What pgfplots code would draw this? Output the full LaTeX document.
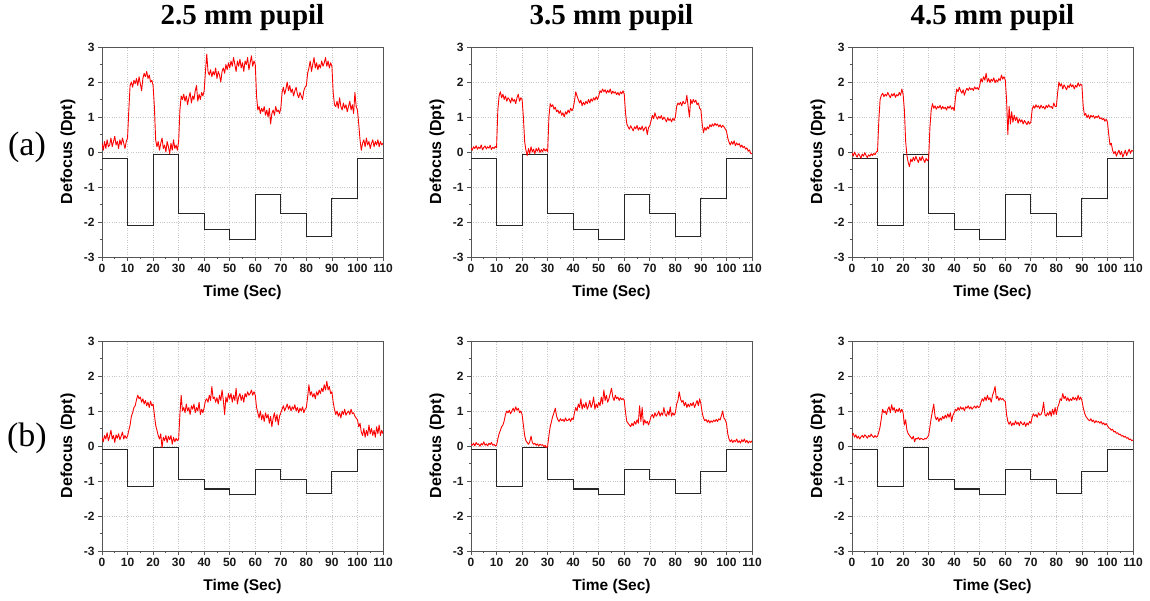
\documentclass[border=0pt]{standalone}
\usepackage{fontspec}
\setmainfont{Liberation Sans}
\newfontfamily\timesfont{Liberation Serif}
\usepackage{pgfplots}
\usepackage{pgfplotstable}
\pgfplotsset{compat=1.18}

% stimulus steps (black)
\pgfplotstableread[row sep=\\]{t y\\
0 -0.19\\ 10 -2.09\\ 20 -0.07\\ 30 -1.76\\ 40 -2.21\\ 50 -2.49\\ 60 -1.22\\ 70 -1.76\\ 80 -2.42\\ 90 -1.34\\ 100 -0.18\\ 110 -0.18\\
}\stepA
\pgfplotstableread[row sep=\\]{t y\\
0 -0.1\\ 10 -1.15\\ 20 -0.04\\ 30 -0.97\\ 40 -1.23\\ 50 -1.39\\ 60 -0.67\\ 70 -0.96\\ 80 -1.35\\ 90 -0.73\\ 100 -0.1\\ 110 -0.1\\
}\stepB

% responses (red)
\pgfplotstableread[row sep=\\]{t y\\
0 0.25\\ 0.5 0.05\\ 1 0.3\\ 1.5 0.1\\ 2 0.35\\ 2.5 0.15\\ 3 0.2\\ 3.5 0.4\\ 4 0.15\\ 4.5 0.3\\
5 0.45\\ 5.5 0.2\\ 6 0.3\\ 6.5 0.1\\ 7 0.35\\ 7.5 0.2\\ 8 0.4\\ 8.5 0.25\\ 9 0.1\\ 9.5 0.3\\
10 0.4\\ 10.5 1.2\\ 11 1.9\\ 11.5 2\\ 12 1.85\\ 12.5 2.05\\ 13 1.95\\ 13.5 2.1\\ 14 1.9\\ 14.5 2.15\\
15 1.95\\ 15.5 1.75\\ 16 2.1\\ 16.5 2.25\\ 17 2.15\\ 17.5 2.3\\ 18 2.1\\ 18.5 2.2\\ 19 2\\ 19.5 2.05\\
20 1.9\\ 20.5 1.3\\ 21 0.35\\ 21.5 0.15\\ 22 0.3\\ 22.5 0.05\\ 23 0.25\\ 23.5 0.4\\ 24 0.1\\ 24.5 0.2\\
25 0\\ 25.5 0.3\\ 26 0.15\\ 26.5 -0.05\\ 27 0.25\\ 27.5 0.05\\ 28 0.35\\ 28.5 0.1\\ 29 0.2\\ 29.5 0.05\\
30 0.3\\ 30.5 1.2\\ 31 1.6\\ 31.5 1.5\\ 32 1.65\\ 32.5 1.45\\ 33 1.6\\ 33.5 1.35\\ 34 1.55\\ 34.5 1.7\\
35 1.4\\ 35.5 1.6\\ 36 1.5\\ 36.5 1.75\\ 37 1.9\\ 37.5 1.45\\ 38 1.65\\ 38.5 1.5\\ 39 1.7\\ 39.5 1.6\\
40 1.75\\ 40.5 2.3\\ 41 2.8\\ 41.5 2.3\\ 42 2.2\\ 42.5 2.35\\ 43 2.15\\ 43.5 2.3\\ 44 2.2\\ 44.5 2.4\\
45 2.1\\ 45.5 2.3\\ 46 2.2\\ 46.5 2\\ 47 2.3\\ 47.5 2.4\\ 48 2.25\\ 48.5 2.5\\ 49 2.35\\ 49.5 2.55\\
50 2.4\\ 50.5 2.6\\ 51 2.45\\ 51.5 2.7\\ 52 2.5\\ 52.5 2.3\\ 53 2.6\\ 53.5 2.45\\ 54 2.65\\ 54.5 2.4\\
55 2.55\\ 55.5 2.3\\ 56 2.6\\ 56.5 2.5\\ 57 2.7\\ 57.5 2.35\\ 58 2.55\\ 58.5 2.75\\ 59 2.45\\ 59.5 2.6\\
60 2.5\\ 60.5 1.6\\ 61 1.2\\ 61.5 1.3\\ 62 1.1\\ 62.5 1.25\\ 63 1.15\\ 63.5 1.3\\ 64 1.05\\ 64.5 1.2\\
65 1\\ 65.5 1.25\\ 66 0.8\\ 66.5 1.1\\ 67 1.2\\ 67.5 1.05\\ 68 1.3\\ 68.5 1.15\\ 69 1.2\\ 69.5 1.1\\
70 1.25\\ 70.5 1.7\\ 71 1.85\\ 71.5 1.65\\ 72 1.8\\ 72.5 2\\ 73 1.75\\ 73.5 1.9\\ 74 1.7\\ 74.5 1.8\\
75 1.6\\ 75.5 1.75\\ 76 1.85\\ 76.5 1.65\\ 77 1.55\\ 77.5 1.7\\ 78 1.6\\ 78.5 1.5\\ 79 1.75\\ 79.5 1.85\\
80 1.9\\ 80.5 2.25\\ 81 2.4\\ 81.5 2.6\\ 82 2.3\\ 82.5 2.5\\ 83 2.7\\ 83.5 2.4\\ 84 2.55\\ 84.5 2.35\\
85 2.5\\ 85.5 2.4\\ 86 2.6\\ 86.5 2.45\\ 87 2.55\\ 87.5 2.7\\ 88 2.45\\ 88.5 2.6\\ 89 2.4\\ 89.5 2.55\\
90 2.45\\ 90.5 1.7\\ 91 1.35\\ 91.5 1.3\\ 92 1.45\\ 92.5 1.25\\ 93 1.55\\ 93.5 1.3\\ 94 1.2\\ 94.5 1.4\\
95 1.25\\ 95.5 1.35\\ 96 1.15\\ 96.5 1.3\\ 97 1.45\\ 97.5 1.2\\ 98 1.35\\ 98.5 1.1\\ 99 1.7\\ 99.5 1.3\\
100 1.2\\ 100.5 0.8\\ 101 0.35\\ 101.5 0.05\\ 102 0.25\\ 102.5 0.35\\ 103 0.15\\ 103.5 0.4\\ 104 0.2\\ 104.5 0.3\\
105 0.1\\ 105.5 0.25\\ 106 0.35\\ 106.5 0.15\\ 107 0.3\\ 107.5 0.2\\ 108 0.35\\ 108.5 0.15\\ 109 0.3\\ 109.5 0.2\\ 110 0.25\\
}\respAone

\pgfplotstableread[row sep=\\]{t y\\
0 0.12\\ 0.5 0.05\\ 1 0.15\\ 1.5 0.1\\ 2 0.18\\ 2.5 0.08\\ 3 0.14\\ 3.5 0.1\\ 4 0.2\\ 4.5 0.06\\
5 0.13\\ 5.5 0.17\\ 6 0.09\\ 6.5 0.15\\ 7 0.11\\ 7.5 0.19\\ 8 0.07\\ 8.5 0.14\\ 9 0.1\\ 9.5 0.16\\
10 0.12\\ 10.5 1.2\\ 11 1.6\\ 11.5 1.72\\ 12 1.55\\ 12.5 1.65\\ 13 1.5\\ 13.5 1.6\\ 14 1.45\\ 14.5 1.55\\
15 1.5\\ 15.5 1.4\\ 16 1.55\\ 16.5 1.45\\ 17 1.5\\ 17.5 1.38\\ 18 1.55\\ 18.5 1.65\\ 19 1.45\\ 19.5 1.55\\
20 1.5\\ 20.5 1\\ 21 0.3\\ 21.5 0.05\\ 22 -0.1\\ 22.5 0.1\\ 23 -0.05\\ 23.5 0.15\\ 24 0\\ 24.5 0.08\\
25 -0.05\\ 25.5 0.1\\ 26 0.02\\ 26.5 0.12\\ 27 -0.02\\ 27.5 0.07\\ 28 0\\ 28.5 0.1\\ 29 0.03\\ 29.5 0.08\\
30 0\\ 30.5 1\\ 31 1.38\\ 31.5 1.3\\ 32 1.35\\ 32.5 1.22\\ 33 1.28\\ 33.5 1.15\\ 34 1.2\\ 34.5 1.1\\
35 1.18\\ 35.5 1.05\\ 36 1.12\\ 36.5 1\\ 37 1.15\\ 37.5 1.08\\ 38 1.2\\ 38.5 1.12\\ 39 1.25\\ 39.5 1.18\\
40 1.25\\ 40.5 1.45\\ 41 1.72\\ 41.5 1.6\\ 42 1.5\\ 42.5 1.4\\ 43 1.48\\ 43.5 1.32\\ 44 1.42\\ 44.5 1.35\\
45 1.45\\ 45.5 1.38\\ 46 1.5\\ 46.5 1.4\\ 47 1.52\\ 47.5 1.45\\ 48 1.55\\ 48.5 1.48\\ 49 1.58\\ 49.5 1.5\\
50 1.6\\ 50.5 1.75\\ 51 1.7\\ 51.5 1.8\\ 52 1.72\\ 52.5 1.78\\ 53 1.68\\ 53.5 1.76\\ 54 1.7\\ 54.5 1.8\\
55 1.66\\ 55.5 1.74\\ 56 1.68\\ 56.5 1.72\\ 57 1.64\\ 57.5 1.7\\ 58 1.62\\ 58.5 1.72\\ 59 1.66\\ 59.5 1.75\\
60 1.65\\ 60.5 1.1\\ 61 0.8\\ 61.5 0.72\\ 62 0.65\\ 62.5 0.75\\ 63 0.68\\ 63.5 0.6\\ 64 0.72\\ 64.5 0.66\\
65 0.76\\ 65.5 0.62\\ 66 0.7\\ 66.5 0.64\\ 67 0.74\\ 67.5 0.6\\ 68 0.68\\ 68.5 0.72\\ 69 0.5\\ 69.5 0.7\\
70 0.75\\ 70.5 0.9\\ 71 1.05\\ 71.5 0.95\\ 72 1.12\\ 72.5 1\\ 73 0.94\\ 73.5 1.02\\ 74 0.96\\ 74.5 1.04\\
75 0.92\\ 75.5 1\\ 76 0.94\\ 76.5 0.86\\ 77 0.98\\ 77.5 0.9\\ 78 0.95\\ 78.5 0.86\\ 79 0.96\\ 79.5 0.9\\
80 1\\ 80.5 1.3\\ 81 1.4\\ 81.5 1.35\\ 82 1.42\\ 82.5 1.32\\ 83 1.45\\ 83.5 1.38\\ 84 1.4\\ 84.5 1.62\\
85 1.3\\ 85.5 1\\ 86 1.5\\ 86.5 1.38\\ 87 1.5\\ 87.5 1.42\\ 88 1.48\\ 88.5 1.35\\ 89 1.4\\ 89.5 1.25\\
90 1.2\\ 90.5 0.8\\ 91 0.55\\ 91.5 0.7\\ 92 0.62\\ 92.5 0.72\\ 93 0.66\\ 93.5 0.78\\ 94 0.72\\ 94.5 0.8\\
95 0.74\\ 95.5 0.82\\ 96 0.76\\ 96.5 0.8\\ 97 0.72\\ 97.5 0.78\\ 98 0.7\\ 98.5 0.76\\ 99 0.72\\ 99.5 0.66\\
100 0.6\\ 100.5 0.4\\ 101 0.28\\ 101.5 0.2\\ 102 0.3\\ 102.5 0.22\\ 103 0.32\\ 103.5 0.18\\ 104 0.26\\ 104.5 0.2\\
105 0.24\\ 105.5 0.14\\ 106 0.2\\ 106.5 0.12\\ 107 0.16\\ 107.5 0.08\\ 108 0.12\\ 108.5 0.02\\ 109 0.06\\ 109.5 -0.04\\ 110 -0.05\\
}\respAtwo

\pgfplotstableread[row sep=\\]{t y\\
0 -0.02\\ 0.5 -0.12\\ 1 0\\ 1.5 -0.08\\ 2 -0.15\\ 2.5 -0.05\\ 3 -0.1\\ 3.5 -0.18\\ 4 -0.06\\ 4.5 -0.12\\
5 -0.02\\ 5.5 -0.1\\ 6 -0.16\\ 6.5 -0.08\\ 7 -0.12\\ 7.5 -0.05\\ 8 -0.1\\ 8.5 -0.04\\ 9 -0.08\\ 9.5 0\\
10 0.02\\ 10.5 0.9\\ 11 1.5\\ 11.5 1.62\\ 12 1.68\\ 12.5 1.58\\ 13 1.65\\ 13.5 1.6\\ 14 1.7\\ 14.5 1.62\\
15 1.55\\ 15.5 1.66\\ 16 1.6\\ 16.5 1.68\\ 17 1.56\\ 17.5 1.64\\ 18 1.6\\ 18.5 1.7\\ 19 1.62\\ 19.5 1.8\\
20 1.65\\ 20.5 1.2\\ 21 0.3\\ 21.5 -0.1\\ 22 -0.3\\ 22.5 -0.42\\ 23 -0.2\\ 23.5 -0.28\\ 24 -0.15\\ 24.5 -0.25\\
25 -0.12\\ 25.5 -0.22\\ 26 -0.3\\ 26.5 -0.15\\ 27 -0.25\\ 27.5 -0.12\\ 28 -0.22\\ 28.5 -0.3\\ 29 -0.18\\ 29.5 -0.25\\
30 -0.2\\ 30.5 0.7\\ 31 1.2\\ 31.5 1.38\\ 32 1.25\\ 32.5 1.32\\ 33 1.22\\ 33.5 1.3\\ 34 1.26\\ 34.5 1.33\\
35 1.22\\ 35.5 1.3\\ 36 1.24\\ 36.5 1.28\\ 37 1.2\\ 37.5 1.3\\ 38 1.25\\ 38.5 1.32\\ 39 1.22\\ 39.5 1.28\\
40 1.18\\ 40.5 1.55\\ 41 1.8\\ 41.5 1.72\\ 42 1.85\\ 42.5 1.75\\ 43 1.68\\ 43.5 1.78\\ 44 1.62\\ 44.5 1.75\\
45 1.82\\ 45.5 1.76\\ 46 1.84\\ 46.5 1.78\\ 47 1.82\\ 47.5 1.76\\ 48 1.86\\ 48.5 1.8\\ 49 1.84\\ 49.5 1.78\\
50 1.9\\ 50.5 2.1\\ 51 2\\ 51.5 2.15\\ 52 2.05\\ 52.5 2.25\\ 53 2\\ 53.5 2.1\\ 54 1.98\\ 54.5 2.08\\
55 2.02\\ 55.5 2.12\\ 56 1.98\\ 56.5 2.06\\ 57 2\\ 57.5 2.1\\ 58 2.04\\ 58.5 2.2\\ 59 2.08\\ 59.5 2.15\\
60 2.05\\ 60.5 1.5\\ 61 0.5\\ 61.5 1.3\\ 62 0.8\\ 62.5 1.15\\ 63 0.85\\ 63.5 1.05\\ 64 0.9\\ 64.5 1\\
65 0.82\\ 65.5 0.95\\ 66 0.86\\ 66.5 0.92\\ 67 0.8\\ 67.5 0.9\\ 68 0.84\\ 68.5 0.78\\ 69 0.88\\ 69.5 0.8\\
70 0.85\\ 70.5 1.2\\ 71 1.32\\ 71.5 1.25\\ 72 1.35\\ 72.5 1.28\\ 73 1.32\\ 73.5 1.24\\ 74 1.34\\ 74.5 1.26\\
75 1.3\\ 75.5 1.22\\ 76 1.33\\ 76.5 1.27\\ 77 1.35\\ 77.5 1.28\\ 78 1.3\\ 78.5 1.24\\ 79 1.4\\ 79.5 1.3\\
80 1.3\\ 80.5 1.7\\ 81 2\\ 81.5 1.88\\ 82 1.95\\ 82.5 1.8\\ 83 1.92\\ 83.5 1.85\\ 84 1.78\\ 84.5 1.9\\
85 1.84\\ 85.5 1.95\\ 86 1.86\\ 86.5 1.92\\ 87 1.8\\ 87.5 1.9\\ 88 1.85\\ 88.5 1.98\\ 89 1.88\\ 89.5 1.94\\
90 1.9\\ 90.5 1.3\\ 91 1.05\\ 91.5 1.1\\ 92 0.98\\ 92.5 1.06\\ 93 0.95\\ 93.5 1.05\\ 94 1\\ 94.5 1.04\\
95 0.96\\ 95.5 1.02\\ 96 0.98\\ 96.5 1.04\\ 97 0.95\\ 97.5 0.98\\ 98 0.92\\ 98.5 0.96\\ 99 0.88\\ 99.5 0.94\\
100 0.85\\ 100.5 0.5\\ 101 0.2\\ 101.5 0.25\\ 102 0.05\\ 102.5 -0.05\\ 103 0.02\\ 103.5 -0.12\\ 104 -0.02\\ 104.5 0.05\\
105 -0.08\\ 105.5 0.02\\ 106 -0.15\\ 106.5 -0.05\\ 107 0.05\\ 107.5 -0.1\\ 108 0\\ 108.5 0.08\\ 109 -0.04\\ 109.5 0.05\\ 110 0.02\\
}\respAthree

\pgfplotstableread[row sep=\\]{t y\\
0 0.25\\ 0.5 0.12\\ 1 0.3\\ 1.5 0.2\\ 2 0.38\\ 2.5 0.15\\ 3 0.28\\ 3.5 0.45\\ 4 0.2\\ 4.5 0.3\\
5 0.1\\ 5.5 0.32\\ 6 0.22\\ 6.5 0.35\\ 7 0.18\\ 7.5 0.28\\ 8 0.4\\ 8.5 0.2\\ 9 0.3\\ 9.5 0.22\\
10 0.28\\ 10.5 0.45\\ 11 0.6\\ 11.5 0.85\\ 12 0.95\\ 12.5 1.1\\ 13 1.15\\ 13.5 1.32\\ 14 1.45\\ 14.5 1.35\\
15 1.4\\ 15.5 1.25\\ 16 1.35\\ 16.5 1.2\\ 17 1.3\\ 17.5 1.15\\ 18 1.25\\ 18.5 1.1\\ 19 1.28\\ 19.5 1.15\\
20 1.2\\ 20.5 0.9\\ 21 0.6\\ 21.5 0.45\\ 22 0.3\\ 22.5 0.2\\ 23 0.35\\ 23.5 -0.05\\ 24 0.25\\ 24.5 0.15\\
25 0.3\\ 25.5 0.1\\ 26 0.28\\ 26.5 0.18\\ 27 0.3\\ 27.5 0.05\\ 28 0.25\\ 28.5 0.12\\ 29 0.22\\ 29.5 0.15\\
30 0.2\\ 30.5 0.9\\ 31 1.45\\ 31.5 1\\ 32 1.1\\ 32.5 0.95\\ 33 1.2\\ 33.5 1\\ 34 1.1\\ 34.5 0.9\\
35 1.15\\ 35.5 1.05\\ 36 1.2\\ 36.5 0.95\\ 37 1.1\\ 37.5 1\\ 38 1.25\\ 38.5 0.9\\ 39 1.05\\ 39.5 0.95\\
40 1.1\\ 40.5 1.3\\ 41 1.35\\ 41.5 1.25\\ 42 1.45\\ 42.5 1.3\\ 43 1.7\\ 43.5 1.35\\ 44 1.4\\ 44.5 1.25\\
45 1.38\\ 45.5 1.2\\ 46 1.45\\ 46.5 1.3\\ 47 1.6\\ 47.5 1.3\\ 48 0.9\\ 48.5 1.4\\ 49 1.25\\ 49.5 1.5\\
50 1.35\\ 50.5 1.5\\ 51 1.25\\ 51.5 1.45\\ 52 1.3\\ 52.5 1.65\\ 53 1.2\\ 53.5 1.4\\ 54 1.5\\ 54.5 1.3\\
55 1.45\\ 55.5 1.25\\ 56 1.5\\ 56.5 1.4\\ 57 1.55\\ 57.5 1.45\\ 58 1.5\\ 58.5 1.6\\ 59 1.45\\ 59.5 1.55\\
60 1.45\\ 60.5 1.1\\ 61 0.95\\ 61.5 0.8\\ 62 1\\ 62.5 0.75\\ 63 0.9\\ 63.5 0.7\\ 64 0.95\\ 64.5 0.8\\
65 0.9\\ 65.5 0.65\\ 66 0.85\\ 66.5 0.55\\ 67 0.8\\ 67.5 0.95\\ 68 0.7\\ 68.5 0.9\\ 69 0.6\\ 69.5 0.85\\
70 0.95\\ 70.5 1.05\\ 71 1.15\\ 71.5 1\\ 72 1.1\\ 72.5 1.2\\ 73 1.05\\ 73.5 1.15\\ 74 1\\ 74.5 1.12\\
75 1.05\\ 75.5 1.18\\ 76 1\\ 76.5 1.1\\ 77 0.95\\ 77.5 1.08\\ 78 1\\ 78.5 1.12\\ 79 0.95\\ 79.5 1.05\\
80 1.1\\ 80.5 1.4\\ 81 1.75\\ 81.5 1.45\\ 82 1.55\\ 82.5 1.4\\ 83 1.5\\ 83.5 1.35\\ 84 1.55\\ 84.5 1.45\\
85 1.6\\ 85.5 1.5\\ 86 1.65\\ 86.5 1.55\\ 87 1.75\\ 87.5 1.6\\ 88 1.85\\ 88.5 1.6\\ 89 1.7\\ 89.5 1.5\\
90 1.55\\ 90.5 1.25\\ 91 1.05\\ 91.5 0.9\\ 92 1\\ 92.5 0.85\\ 93 0.95\\ 93.5 0.8\\ 94 1\\ 94.5 0.9\\
95 1.05\\ 95.5 0.88\\ 96 0.95\\ 96.5 1\\ 97 0.9\\ 97.5 1.05\\ 98 0.92\\ 98.5 0.95\\ 99 0.85\\ 99.5 0.8\\
100 0.75\\ 100.5 0.55\\ 101 0.65\\ 101.5 0.4\\ 102 0.3\\ 102.5 0.5\\ 103 0.25\\ 103.5 0.45\\ 104 0.3\\ 104.5 0.6\\
105 0.35\\ 105.5 0.5\\ 106 0.3\\ 106.5 0.45\\ 107 0.25\\ 107.5 0.55\\ 108 0.35\\ 108.5 0.6\\ 109 0.3\\ 109.5 0.45\\ 110 0.35\\
}\respBone

\pgfplotstableread[row sep=\\]{t y\\
0 0.05\\ 0.5 0.02\\ 1 0.08\\ 1.5 0\\ 2 0.1\\ 2.5 0.04\\ 3 0.06\\ 3.5 -0.01\\ 4 0.07\\ 4.5 0.03\\
5 0.12\\ 5.5 0.02\\ 6 0.06\\ 6.5 0\\ 7 0.08\\ 7.5 0.04\\ 8 0.1\\ 8.5 0.02\\ 9 0.05\\ 9.5 0\\
10 0.02\\ 10.5 0.2\\ 11 0.35\\ 11.5 0.45\\ 12 0.55\\ 12.5 0.6\\ 13 0.72\\ 13.5 0.9\\ 14 1\\ 14.5 0.95\\
15 1.02\\ 15.5 0.92\\ 16 1\\ 16.5 1.08\\ 17 0.98\\ 17.5 1.12\\ 18 1.02\\ 18.5 1.08\\ 19 0.95\\ 19.5 1\\
20 0.9\\ 20.5 0.6\\ 21 0.3\\ 21.5 0.15\\ 22 0.1\\ 22.5 0.05\\ 23 0.12\\ 23.5 0.28\\ 24 0.1\\ 24.5 0.05\\
25 0.08\\ 25.5 0.02\\ 26 0.06\\ 26.5 0\\ 27 0.05\\ 27.5 0.02\\ 28 0.04\\ 28.5 -0.02\\ 29 0.02\\ 29.5 -0.05\\
30 0\\ 30.5 0.3\\ 31 0.55\\ 31.5 0.7\\ 32 0.85\\ 32.5 0.95\\ 33 1.08\\ 33.5 0.85\\ 34 0.75\\ 34.5 0.7\\
35 0.78\\ 35.5 0.72\\ 36 0.76\\ 36.5 0.7\\ 37 0.8\\ 37.5 0.72\\ 38 0.74\\ 38.5 0.78\\ 39 0.7\\ 39.5 0.8\\
40 0.75\\ 40.5 0.95\\ 41 1.1\\ 41.5 1\\ 42 1.2\\ 42.5 1.1\\ 43 1.35\\ 43.5 1.05\\ 44 1.2\\ 44.5 1.1\\
45 1.25\\ 45.5 1.05\\ 46 1.15\\ 46.5 1.3\\ 47 1.1\\ 47.5 1.2\\ 48 1.4\\ 48.5 1.05\\ 49 1.2\\ 49.5 1.1\\
50 1.25\\ 50.5 1.15\\ 51 1.4\\ 51.5 1.2\\ 52 1.6\\ 52.5 1.3\\ 53 1.45\\ 53.5 1.25\\ 54 1.35\\ 54.5 1.5\\
55 1.65\\ 55.5 1.4\\ 56 1.3\\ 56.5 1.45\\ 57 1.35\\ 57.5 1.4\\ 58 1.3\\ 58.5 1.38\\ 59 1.32\\ 59.5 1.36\\
60 1.3\\ 60.5 0.95\\ 61 0.7\\ 61.5 0.65\\ 62 0.6\\ 62.5 0.55\\ 63 0.65\\ 63.5 0.58\\ 64 0.7\\ 64.5 0.62\\
65 0.75\\ 65.5 0.65\\ 66 1.15\\ 66.5 0.7\\ 67 1.1\\ 67.5 0.6\\ 68 0.75\\ 68.5 0.65\\ 69 0.7\\ 69.5 0.6\\
70 0.72\\ 70.5 0.85\\ 71 0.9\\ 71.5 0.8\\ 72 0.95\\ 72.5 0.85\\ 73 0.9\\ 73.5 1\\ 74 0.85\\ 74.5 0.95\\
75 0.88\\ 75.5 1.1\\ 76 0.9\\ 76.5 0.85\\ 77 1\\ 77.5 0.88\\ 78 1.12\\ 78.5 0.85\\ 79 0.95\\ 79.5 0.88\\
80 0.95\\ 80.5 1.2\\ 81 1.3\\ 81.5 1.55\\ 82 1.35\\ 82.5 1.25\\ 83 1.3\\ 83.5 1.15\\ 84 1.25\\ 84.5 1.1\\
85 1.2\\ 85.5 1.12\\ 86 1.22\\ 86.5 1.15\\ 87 1.25\\ 87.5 1.1\\ 88 1.2\\ 88.5 1.3\\ 89 1.15\\ 89.5 1.35\\
90 1.2\\ 90.5 0.95\\ 91 0.8\\ 91.5 0.72\\ 92 0.76\\ 92.5 0.68\\ 93 0.74\\ 93.5 0.66\\ 94 0.72\\ 94.5 0.68\\
95 0.74\\ 95.5 0.7\\ 96 0.76\\ 96.5 0.7\\ 97 0.78\\ 97.5 0.74\\ 98 0.86\\ 98.5 1\\ 99 0.8\\ 99.5 0.75\\
100 0.65\\ 100.5 0.35\\ 101 0.2\\ 101.5 0.12\\ 102 0.18\\ 102.5 0.1\\ 103 0.16\\ 103.5 0.12\\ 104 0.2\\ 104.5 0.1\\
105 0.15\\ 105.5 0.08\\ 106 0.18\\ 106.5 0.12\\ 107 0.2\\ 107.5 0.1\\ 108 0.16\\ 108.5 0.08\\ 109 0.14\\ 109.5 0.1\\ 110 0.15\\
}\respBtwo

\pgfplotstableread[row sep=\\]{t y\\
0 0.3\\ 0.5 0.36\\ 1 0.25\\ 1.5 0.32\\ 2 0.22\\ 2.5 0.28\\ 3 0.2\\ 3.5 0.26\\ 4 0.3\\ 4.5 0.24\\
5 0.32\\ 5.5 0.28\\ 6 0.22\\ 6.5 0.3\\ 7 0.26\\ 7.5 0.34\\ 8 0.28\\ 8.5 0.24\\ 9 0.3\\ 9.5 0.25\\
10 0.28\\ 10.5 0.4\\ 11 0.55\\ 11.5 0.8\\ 12 1.05\\ 12.5 0.95\\ 13 1\\ 13.5 0.9\\ 14 1.05\\ 14.5 1.12\\
15 0.95\\ 15.5 1.18\\ 16 1.02\\ 16.5 1.1\\ 17 0.95\\ 17.5 1.05\\ 18 0.98\\ 18.5 1.08\\ 19 0.96\\ 19.5 1.05\\
20 0.95\\ 20.5 0.6\\ 21 0.75\\ 21.5 0.45\\ 22 0.35\\ 22.5 0.3\\ 23 0.25\\ 23.5 0.2\\ 24 0.28\\ 24.5 0.12\\
25 0.22\\ 25.5 0.2\\ 26 0.24\\ 26.5 0.18\\ 27 0.22\\ 27.5 0.2\\ 28 0.18\\ 28.5 0.22\\ 29 0.2\\ 29.5 0.25\\
30 0.3\\ 30.5 0.55\\ 31 0.8\\ 31.5 1\\ 32 1.2\\ 32.5 0.85\\ 33 0.75\\ 33.5 0.82\\ 34 0.7\\ 34.5 0.8\\
35 0.74\\ 35.5 0.85\\ 36 0.78\\ 36.5 0.88\\ 37 0.8\\ 37.5 0.92\\ 38 0.82\\ 38.5 0.95\\ 39 0.7\\ 39.5 0.88\\
40 0.95\\ 40.5 1.05\\ 41 1\\ 41.5 1.1\\ 42 1.02\\ 42.5 1.12\\ 43 1.05\\ 43.5 1.1\\ 44 1\\ 44.5 1.12\\
45 1.08\\ 45.5 1.15\\ 46 1.06\\ 46.5 1.12\\ 47 1.05\\ 47.5 1.1\\ 48 1.14\\ 48.5 1.08\\ 49 1.15\\ 49.5 1.1\\
50 1.12\\ 50.5 1.25\\ 51 1.35\\ 51.5 1.28\\ 52 1.4\\ 52.5 1.3\\ 53 1.45\\ 53.5 1.32\\ 54 1.38\\ 54.5 1.25\\
55 1.45\\ 55.5 1.55\\ 56 1.7\\ 56.5 1.35\\ 57 1.42\\ 57.5 1.3\\ 58 1.38\\ 58.5 1.32\\ 59 1.36\\ 59.5 1.3\\
60 1.28\\ 60.5 0.9\\ 61 0.7\\ 61.5 0.62\\ 62 0.7\\ 62.5 0.58\\ 63 0.66\\ 63.5 0.6\\ 64 0.72\\ 64.5 0.62\\
65 0.68\\ 65.5 0.58\\ 66 0.7\\ 66.5 0.64\\ 67 0.6\\ 67.5 0.68\\ 68 0.56\\ 68.5 0.66\\ 69 0.6\\ 69.5 0.7\\
70 0.65\\ 70.5 0.82\\ 71 0.92\\ 71.5 0.85\\ 72 0.9\\ 72.5 0.82\\ 73 0.95\\ 73.5 0.88\\ 74 0.9\\ 74.5 1\\
75 1.25\\ 75.5 0.9\\ 76 0.85\\ 76.5 0.95\\ 77 0.88\\ 77.5 1\\ 78 0.85\\ 78.5 1.05\\ 79 0.9\\ 79.5 1.1\\
80 0.9\\ 80.5 1.1\\ 81 1.2\\ 81.5 1.35\\ 82 1.3\\ 82.5 1.5\\ 83 1.35\\ 83.5 1.42\\ 84 1.3\\ 84.5 1.38\\
85 1.28\\ 85.5 1.35\\ 86 1.3\\ 86.5 1.4\\ 87 1.32\\ 87.5 1.38\\ 88 1.3\\ 88.5 1.45\\ 89 1.32\\ 89.5 1.4\\
90 1.3\\ 90.5 1.1\\ 91 0.95\\ 91.5 0.85\\ 92 0.8\\ 92.5 0.75\\ 93 0.72\\ 93.5 0.78\\ 94 0.7\\ 94.5 0.74\\
95 0.66\\ 95.5 0.72\\ 96 0.68\\ 96.5 0.7\\ 97 0.65\\ 97.5 0.7\\ 98 0.62\\ 98.5 0.66\\ 99 0.6\\ 99.5 0.64\\
100 0.58\\ 100.5 0.52\\ 101 0.5\\ 101.5 0.45\\ 102 0.48\\ 102.5 0.4\\ 103 0.42\\ 103.5 0.36\\ 104 0.38\\ 104.5 0.32\\
105 0.34\\ 105.5 0.28\\ 106 0.3\\ 106.5 0.25\\ 107 0.28\\ 107.5 0.22\\ 108 0.24\\ 108.5 0.18\\ 109 0.2\\ 109.5 0.15\\ 110 0.17\\
}\respBthree

\definecolor{axisgray}{RGB}{85,85,85}

\pgfplotsset{
  panel/.style={
    scale only axis, width=281pt, height=210pt, anchor=south west,
    xmin=0, xmax=110, ymin=-3, ymax=3,
    xtick={0,10,...,110}, ytick={-3,-2,...,3},
    minor x tick num=1, minor y tick num=1,
    tick align=outside, tick pos=left,
    major tick length=4pt, minor tick length=2.5pt,
    grid=major, major grid style={dotted, black!22, line width=0.6pt},
    axis line style={axisgray, line width=0.9pt},
    every tick/.append style={axisgray, line width=0.8pt},
    /pgf/number format/assume math mode=true,
    ticklabel style={font=\bfseries\fontsize{12}{12}\selectfont, text=black!90},
    xlabel={Time (Sec)}, ylabel={Defocus (Dpt)},
    xlabel style={at={(axis description cs:0.5,-0.171)}, anchor=center,
      font=\bfseries\fontsize{15.5}{16}\selectfont},
    ylabel style={at={(axis description cs:-0.121,0.5)}, anchor=center,
      font=\bfseries\fontsize{16}{16}\selectfont},
    title style={at={(axis description cs:0.5,1.114)}, anchor=center,
      font=\timesfont\bfseries\fontsize{29}{30}\selectfont},
  },
  stim/.style={const plot, black!85, line width=1.1pt},
  resp/.style={red, line width=0.9pt, line join=round},
}

\begin{document}
\begin{tikzpicture}
\useasboundingbox (0,0) rectangle (1150pt,601pt);

% row (a)
\begin{axis}[panel, at={(102pt,344pt)}, title={2.5 mm pupil}]
  \addplot[stim] table {\stepA};
  \addplot[resp] table {\respAone};
\end{axis}
\begin{axis}[panel, at={(471pt,344pt)}, title={3.5 mm pupil}]
  \addplot[stim] table {\stepA};
  \addplot[resp] table {\respAtwo};
\end{axis}
\begin{axis}[panel, at={(852pt,344pt)}, title={4.5 mm pupil}]
  \addplot[stim] table {\stepA};
  \addplot[resp] table {\respAthree};
\end{axis}

% row (b)
\begin{axis}[panel, at={(102pt,50pt)}]
  \addplot[stim] table {\stepB};
  \addplot[resp] table {\respBone};
\end{axis}
\begin{axis}[panel, at={(471pt,50pt)}]
  \addplot[stim] table {\stepB};
  \addplot[resp] table {\respBtwo};
\end{axis}
\begin{axis}[panel, at={(852pt,50pt)}]
  \addplot[stim] table {\stepB};
  \addplot[resp] table {\respBthree};
\end{axis}

\node[font=\timesfont\fontsize{34}{34}\selectfont] at (27pt,454pt) {(a)};
\node[font=\timesfont\fontsize{34}{34}\selectfont] at (27pt,163pt) {(b)};
\end{tikzpicture}
\end{document}
